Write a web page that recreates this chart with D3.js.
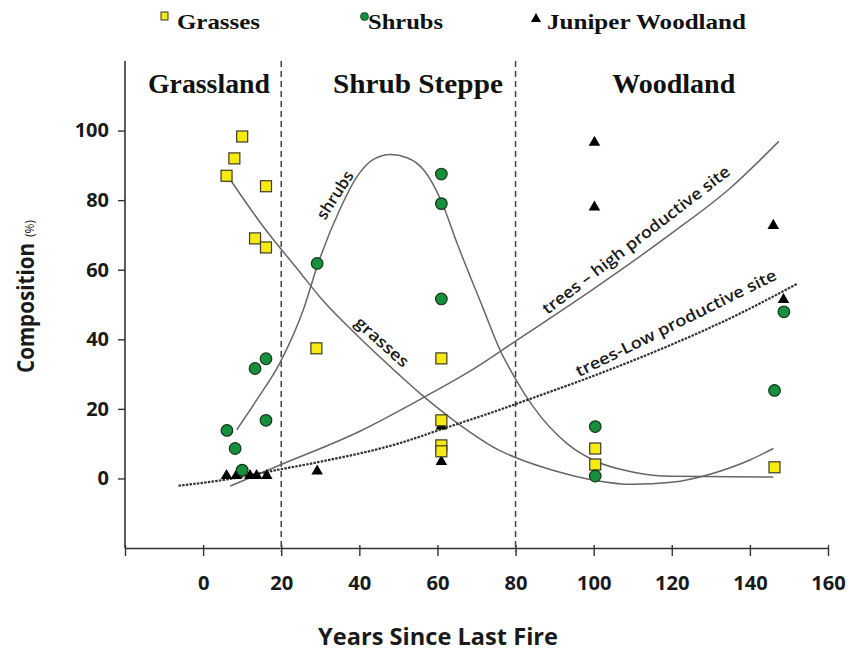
<!DOCTYPE html>
<html><head><meta charset="utf-8">
<script src="https://cdn.jsdelivr.net/npm/d3@7/dist/d3.min.js"></script>
<style>body{margin:0;background:#fff}</style>
</head><body>
<script>
// ---- data ----
const grassX = [6, 8, 10, 16.1, 13.3, 16.1, 29, 61, 61, 61, 61, 100.4, 100.4, 146.3];
const grassY = [87, 92, 98.3, 84, 69, 66.4, 37.4, 34.5, 16.7, 9.5, 7.8, 8.6, 4, 3.2];
const shrubX = [6.1, 8.2, 10, 13.3, 16.1, 16.1, 29.2, 61, 61, 61, 100.4, 100.4, 146.3, 148.7];
const shrubY = [13.8, 8.6, 2.4, 31.6, 34.4, 16.7, 61.8, 87.5, 79, 51.6, 14.9, 0.7, 25.3, 47.9];
const juniperX = [6, 8.5, 12, 13.7, 16.3, 29.2, 61, 61, 100.2, 100.2, 146, 148.6];
const juniperY = [0.8, 0.8, 0.8, 0.8, 0.8, 2.1, 15, 4.8, 96.6, 78, 72.7, 51.4];

// fitted curves
const grassCurveX = [6.4, 15, 25, 30, 40, 50, 56, 65, 76, 80, 90, 100, 110, 120, 130, 140, 146];
const grassCurveY = [86.8, 73, 59, 52, 40.5, 30, 24, 16, 8, 6, 2.2, -0.5, -1.7, -1.1, 1.3, 5.3, 8.6];
const shrubCurveX = [8.6, 13.8, 19.7, 25.7, 29.5, 35, 39.5, 43.6, 48, 52.2, 56.4, 61.2, 65, 71.8, 76, 80.3, 84.6, 93.2, 100.4, 110.2, 120, 146];
const shrubCurveY = [14, 22.7, 33.3, 48.6, 62, 77.3, 86.9, 91.7, 93.1, 92.2, 88.8, 79.2, 67.7, 48.6, 37, 28, 20.5, 10, 5, 1.8, 0.6, 0.4];
const treeHighX = [6.9, 20, 40, 56, 70, 80, 100, 120, 135, 147.4];
const treeHighY = [-2.2, 4, 13.5, 23, 32, 39.5, 54.5, 70.5, 83.5, 96.9];
const treeLowX = [-6.3, 6, 19.7, 30, 50.5, 61.2, 76.1, 84.6, 100, 120, 135.8, 152];
const treeLowY = [-2.1, -0.3, 2.6, 4.8, 10.2, 14.2, 19.8, 23.2, 29.5, 38.5, 46.5, 55.9];

const xTicks = [-20, 0, 20, 40, 60, 80, 100, 120, 140, 160];
const xTickLabels = ["", "0", "20", "40", "60", "80", "100", "120", "140", "160"];
const yTicks = [0, 20, 40, 60, 80, 100];
const zoneBounds = [20, 80];
const zoneNames = ["Grassland", "Shrub Steppe", "Woodland"];
const zoneCenters = [1.5, 55, 120.5];
const legendNames = ["Grasses", "Shrubs", "Juniper Woodland"];

// ---- drawing ----
const W = 848, H = 652;
const svg = d3.select("body").append("svg").attr("width", W).attr("height", H)
  .style("font-family", "'Open Sans', sans-serif");

const x = d3.scaleLinear().domain([-20, 160]).range([125, 828]);
const y = d3.scaleLinear().domain([-20, 120]).range([548, 61]);

const axisCol = "#333";
// bottom axis
const xAxis = svg.append("g").attr("transform", `translate(0,${y(-20)})`)
  .call(d3.axisBottom(x).tickValues(xTicks).tickSize(8).tickSizeOuter(0).tickFormat((d, i) => xTickLabels[i]));
xAxis.select(".domain").attr("stroke", axisCol).attr("stroke-width", 1.6);
xAxis.selectAll(".tick line").attr("stroke", axisCol).attr("stroke-width", 1.4).attr("y1", -3);
xAxis.selectAll(".tick text").attr("dy", 0).attr("y", 42)
  .attr("textLength", (d, i) => xTickLabels[i].length * 11.5).attr("lengthAdjust", "spacingAndGlyphs")
  .style("font-family", "'Open Sans', sans-serif").style("font-weight", 700).style("font-size", "20px").attr("fill", "#1a1a1a");

// left axis
const yAxis = svg.append("g").attr("transform", `translate(${x(-20)},0)`)
  .call(d3.axisLeft(y).tickValues(yTicks).tickSize(7).tickSizeOuter(0).tickPadding(9));
yAxis.select(".domain").attr("d", `M0,${y(120)}V${y(-20)}`).attr("stroke", axisCol).attr("stroke-width", 1.6);
yAxis.selectAll(".tick line").attr("stroke", axisCol).attr("stroke-width", 1.4);
yAxis.selectAll(".tick text").style("font-family", "'Open Sans', sans-serif").style("font-weight", 700)
  .style("font-size", "20px").attr("fill", "#1a1a1a");

// zone dividers
svg.selectAll("line.zone").data(zoneBounds).join("line").attr("class", "zone")
  .attr("x1", d => x(d)).attr("x2", d => x(d)).attr("y1", y(120)).attr("y2", y(-20) + 4)
  .attr("stroke", "#444").attr("stroke-width", 1.5).attr("stroke-dasharray", "6,4");

// zone labels
const zoneLen = [122, 170, 123];
svg.selectAll("text.zone").data(zoneNames).join("text").attr("class", "zone")
  .attr("x", (d, i) => x(zoneCenters[i])).attr("y", 93).attr("text-anchor", "middle")
  .attr("textLength", (d, i) => zoneLen[i]).attr("lengthAdjust", "spacingAndGlyphs")
  .style("font-family", "'Liberation Serif', serif").style("font-weight", 700).style("font-size", "27px")
  .attr("fill", "#111").text(d => d);

// curves
const line = d3.line().x(d => x(d[0])).y(d => y(d[1])).curve(d3.curveMonotoneX);
const zip = (a, b) => a.map((v, i) => [v, b[i]]);
svg.append("path").datum(zip(grassCurveX, grassCurveY)).attr("d", line)
  .attr("fill", "none").attr("stroke", "#666").attr("stroke-width", 1.5);
svg.append("path").datum(zip(shrubCurveX, shrubCurveY)).attr("d", line)
  .attr("fill", "none").attr("stroke", "#666").attr("stroke-width", 1.5);
svg.append("path").datum(zip(treeHighX, treeHighY)).attr("d", line)
  .attr("fill", "none").attr("stroke", "#666").attr("stroke-width", 1.5);
svg.append("path").datum(zip(treeLowX, treeLowY)).attr("d", line)
  .attr("fill", "none").attr("stroke", "#333").attr("stroke-width", 2.2).attr("stroke-dasharray", "2.5,1.2");

// curve labels
function curveLabel(txt, cx, cy, ang, len, size, weight) {
  svg.append("text").attr("transform", `translate(${cx},${cy}) rotate(${ang})`)
    .attr("text-anchor", "middle").attr("dy", "0.35em")
    .attr("textLength", len).attr("lengthAdjust", "spacingAndGlyphs")
    .style("font-family", "'Open Sans', sans-serif").style("font-weight", weight).style("font-size", size + "px")
    .attr("fill", "#1a1a1a").text(txt);
}
curveLabel("shrubs", 335, 195, -57, 54, 16, 600);
curveLabel("grasses", 382, 342, 42, 66, 16, 600);
curveLabel("trees \u2013 high productive site", 636, 240, -37.5, 232, 16, 600);
curveLabel("trees-Low productive site", 676, 323, -26.3, 222, 16, 600);

// points: triangles, squares, circles
const tri = d3.symbol().type(d3.symbolTriangle).size(58);
svg.selectAll("path.jun").data(zip(juniperX, juniperY)).join("path").attr("class", "jun")
  .attr("d", tri).attr("transform", d => `translate(${x(d[0])},${y(d[1])})`).attr("fill", "#000");
const sq = 11;
svg.selectAll("rect.grass").data(zip(grassX, grassY)).join("rect").attr("class", "grass")
  .attr("x", d => x(d[0]) - sq / 2).attr("y", d => y(d[1]) - sq / 2).attr("width", sq).attr("height", sq)
  .attr("fill", "#f7ea10").attr("stroke", "#3a3a2a").attr("stroke-width", 1.2);
svg.selectAll("circle.shrub").data(zip(shrubX, shrubY)).join("circle").attr("class", "shrub")
  .attr("cx", d => x(d[0])).attr("cy", d => y(d[1])).attr("r", 5.8)
  .attr("fill", "#17903c").attr("stroke", "#16351c").attr("stroke-width", 1.2);

// legend
const lg = svg.append("g");
lg.append("rect").attr("x", 161).attr("y", 12).attr("width", 7).attr("height", 8)
  .attr("fill", "#f7ea10").attr("stroke", "#333").attr("stroke-width", 1);
lg.append("circle").attr("cx", 364.5).attr("cy", 16.5).attr("r", 4).attr("fill", "#17903c").attr("stroke", "#16351c").attr("stroke-width", 0.8);
lg.append("path").attr("d", d3.symbol().type(d3.symbolTriangle).size(45)).attr("transform", "translate(536,19)").attr("fill", "#000");
const legX = [177, 368, 547], legLen = [83, 75, 199];
lg.selectAll("text").data(legendNames).join("text")
  .attr("x", (d, i) => legX[i]).attr("y", 29).attr("textLength", (d, i) => legLen[i]).attr("lengthAdjust", "spacingAndGlyphs")
  .style("font-family", "'Liberation Serif', serif").style("font-weight", 700).style("font-size", "22px")
  .attr("fill", "#111").text(d => d);

// axis titles
svg.append("text").attr("x", 438).attr("y", 645).attr("text-anchor", "middle")
  .attr("textLength", 240).attr("lengthAdjust", "spacingAndGlyphs")
  .style("font-weight", 700).style("font-size", "24px").attr("fill", "#1a1a1a").text("Years Since Last Fire");
const yt = svg.append("text").attr("transform", "translate(34,373) rotate(-90)")
  .style("font-weight", 700).style("font-size", "24px").attr("fill", "#1a1a1a");
yt.append("tspan").attr("textLength", 130).attr("lengthAdjust", "spacingAndGlyphs").text("Composition");
yt.append("tspan").attr("dx", 6).attr("dy", 0).style("font-size", "12px").style("font-weight", 400).text("(%)");
</script>
</body></html>
